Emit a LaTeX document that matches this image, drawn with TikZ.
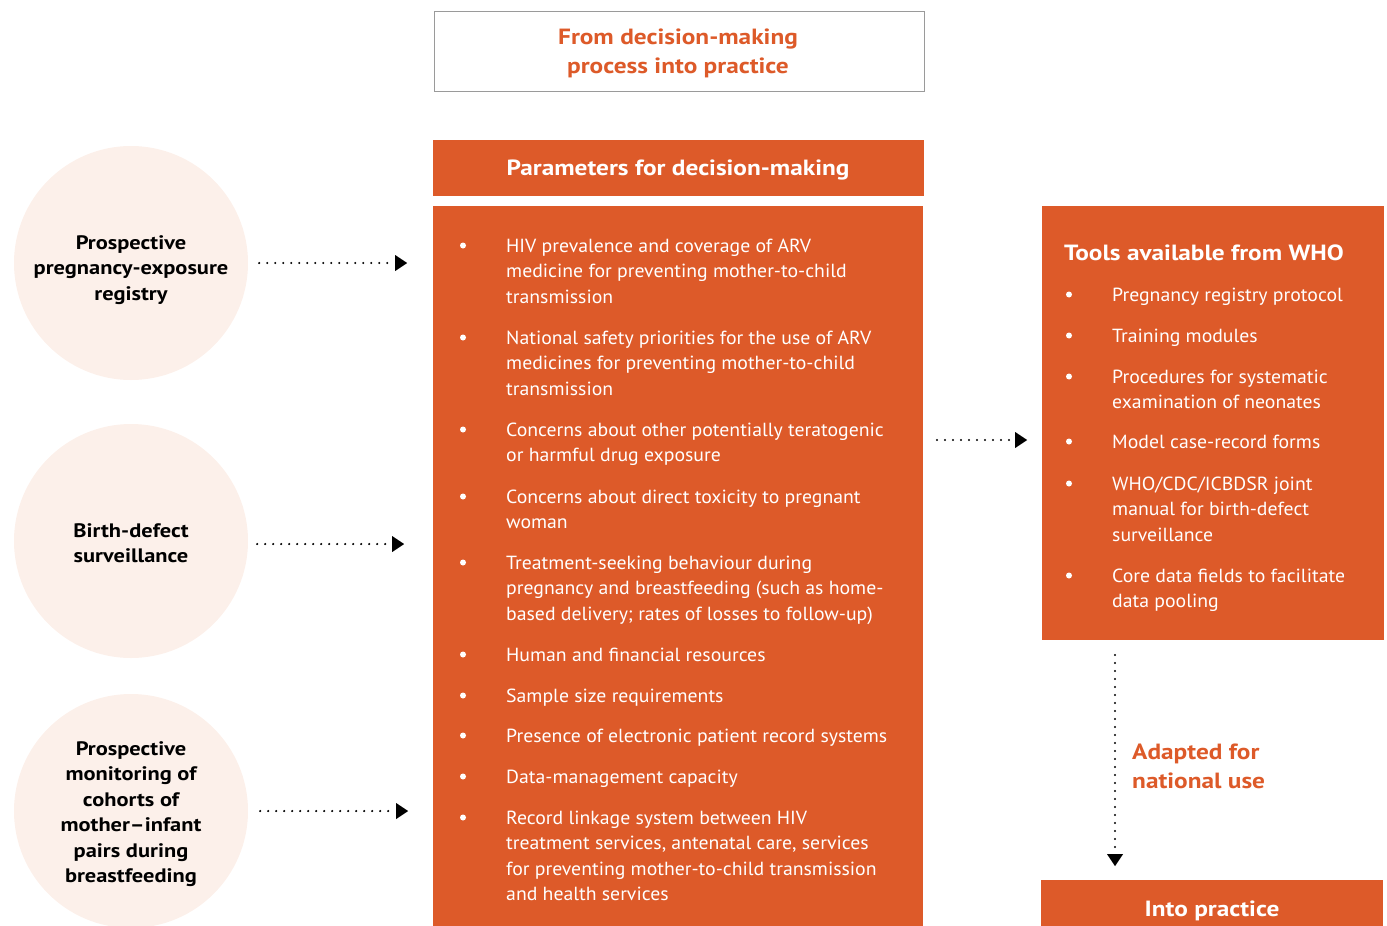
\documentclass[tikz,border=0pt]{standalone}
\usepackage{fontspec}
\setmainfont{PT Sans}[FakeStretch=1.04]
\newfontfamily\headfont{PT Sans}[FakeStretch=1.15]
\usetikzlibrary{arrows.meta}
\definecolor{whoorange}{HTML}{DD5A29}
\definecolor{blush}{HTML}{FCF0EA}
\definecolor{framegray}{HTML}{9A9A9A}
% lines stacked from the baseline of the first one
\newcommand{\leftlines}[1]{\begin{tabular}[t]{@{}l@{}}#1\end{tabular}}
\newcommand{\midlines}[1]{\begin{tabular}[t]{@{}c@{}}#1\end{tabular}}

\begin{document}
\begin{tikzpicture}[x=1pt,y=-1pt,
  panel/.style={fill=whoorange, draw=none, inner sep=0pt, outer sep=0pt, anchor=north west},
  bodytext/.style={font=\fontsize{19}{25.5}\selectfont, text=white, anchor=base west, inner sep=0pt},
  headtext/.style={font=\fontsize{22}{29}\selectfont\headfont\bfseries, inner sep=0pt},
  disc/.style={circle, fill=blush, minimum size=234pt, inner sep=0pt},
  disctext/.style={align=center, inner sep=0pt, font=\fontsize{19.5}{25.5}\selectfont\headfont\bfseries},
  dotarrow/.style={line width=2.4pt, dash pattern=on 0pt off 8pt, line cap=round,
                   -{Triangle[length=12pt,width=16pt,line width=0.01pt]}},
  bulletdot/.style={fill=white}
]
\useasboundingbox (0,0) rectangle (1387,926);

% heading box
\node[draw=framegray, line width=1.2pt, fill=white, minimum width=490pt, minimum height=80pt,
      inner sep=0pt, anchor=north west] (heading) at (434,11) {};
\node[headtext, text=whoorange, anchor=base] (headingtext) at (678,44)
  {\midlines{From decision-making\\process into practice}};

% parameters header and list panel
\node[panel, minimum width=491pt, minimum height=56pt] (paramhead) at (433,140) {};
\node[headtext, text=white, anchor=base] (paramtitle) at (678,175) {Parameters for decision-making};
\node[panel, minimum width=490pt, minimum height=720pt] (params) at (433,206) {};

\foreach \by/\txt [count=\i] in {
  252/{HIV prevalence and coverage of ARV\\medicine for preventing mother-to-child\\transmission},
  344/{National safety priorities for the use of ARV\\medicines for preventing mother-to-child\\transmission},
  436/{Concerns about other potentially teratogenic\\or harmful drug exposure},
  503/{Concerns about direct toxicity to pregnant\\woman},
  569/{Treatment-seeking behaviour during\\pregnancy and breastfeeding (such as home-\\based delivery; rates of losses to follow-up)},
  661/{Human and financial resources},
  702/{Sample size requirements},
  742/{Presence of electronic patient record systems},
  783/{Data-management capacity},
  824/{Record linkage system between HIV\\treatment services, antenatal care, services\\for preventing mother-to-child transmission\\and health services}}
{
  \fill[bulletdot] (463,\by-6.5) circle (3pt);
  \node[bodytext] (p\i) at (506,\by) {\leftlines{\txt}};
}

% tools panel
\node[panel, minimum width=342pt, minimum height=434pt] (tools) at (1042,206) {};
\node[headtext, text=white, anchor=base west] (toolstitle) at (1064,260) {Tools available from WHO};
\foreach \by/\txt [count=\i] in {
  301/{Pregnancy registry protocol},
  342/{Training modules},
  383/{Procedures for systematic\\examination of neonates},
  448/{Model case-record forms},
  490/{WHO/CDC/ICBDSR joint\\manual for birth-defect\\surveillance},
  582/{Core data fields to facilitate\\data pooling}}
{
  \fill[bulletdot] (1069,\by-6.5) circle (3pt);
  \node[bodytext] (t\i) at (1112,\by) {\leftlines{\txt}};
}

% practice box
\node[panel, minimum width=342pt, minimum height=46pt] (practice) at (1041,880) {};
\node[headtext, text=white, anchor=base] (practicetext) at (1212,916) {Into practice};

% national use label
\node[headtext, text=whoorange, anchor=base west] (adapted) at (1132,759)
  {\leftlines{Adapted for\\national use}};

% evidence sources
\node[disc] (registry) at (131,263) {};
\node[disctext] (registrytext) at (131,270) {Prospective\\pregnancy-exposure\\registry};
\node[disc] (surveillance) at (131,541) {};
\node[disctext] (surveillancetext) at (131,543) {Birth-defect\\surveillance};
\node[disc] (cohorts) at (131,811) {};
\node[disctext] (cohortstext) at (131,814) {Prospective\\monitoring of\\cohorts of\\mother–infant\\pairs during\\breastfeeding};

% connectors
\draw[dotarrow] ([xshift=11pt]registry.east) -- ([xshift=-26pt]registry.east -| params.west);
\draw[dotarrow] ([xshift=9pt,yshift=-3pt]surveillance.east) -- ([xshift=-29pt,yshift=-3pt]surveillance.east -| params.west);
\draw[dotarrow] ([xshift=12pt]cohorts.east) -- ([xshift=-25pt]cohorts.east -| params.west);
\draw[dotarrow] ([xshift=14pt]params.east |- 0,440) -- ([xshift=-15pt]tools.west |- 0,440);
\draw[dotarrow] ([yshift=-15pt]tools.south -| 1115,0) -- ([yshift=14pt]practice.north -| 1115,0);
\end{tikzpicture}
\end{document}
